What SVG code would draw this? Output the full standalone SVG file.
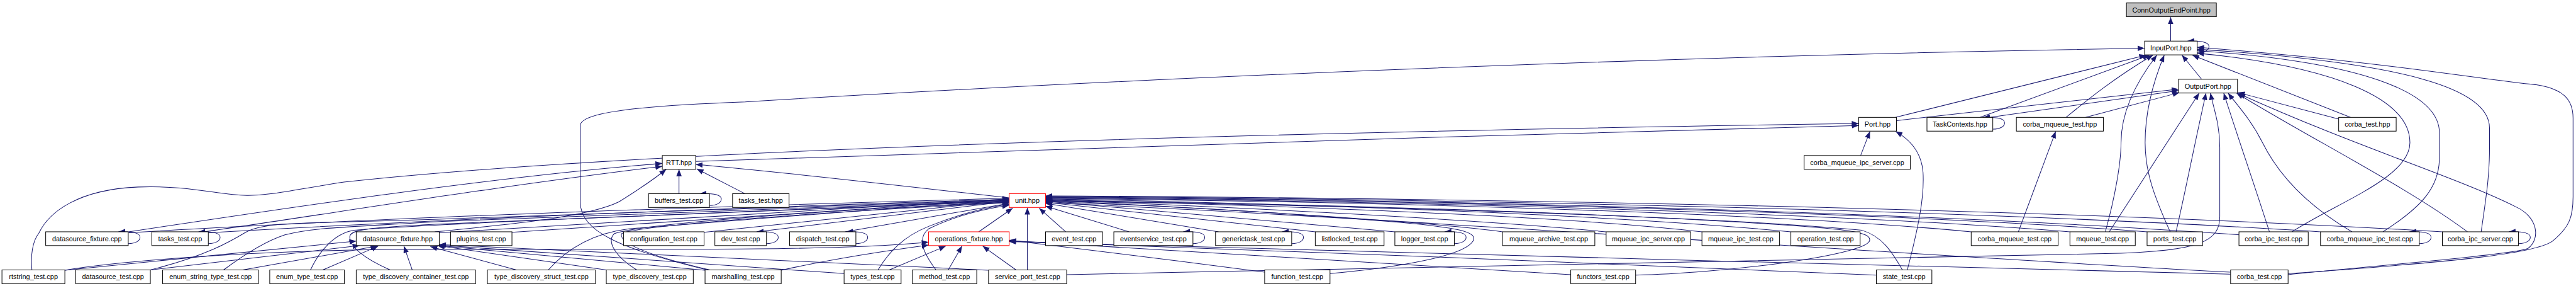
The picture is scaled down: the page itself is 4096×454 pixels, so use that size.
<svg xmlns="http://www.w3.org/2000/svg" width="4096" height="454" viewBox="0 0 4096 454">
<style>
.n rect{fill:#fff;stroke:#000;stroke-width:1.3}
.r rect{stroke:#f00}
.g rect{fill:#bfbfbf}
text{font-family:"Liberation Sans",Arial,sans-serif;font-size:14px;text-anchor:middle;fill:#000}
.e path{fill:none;stroke:#191970;stroke-width:1.3;marker-end:url(#a)}
</style>
<defs>
<marker id="a" markerUnits="userSpaceOnUse" markerWidth="14" markerHeight="11" viewBox="0 0 14 11" refX="14" refY="5.5" orient="auto"><path d="M0,0 L14,5.5 L0,11 z" fill="#191970"/></marker>
</defs>
<rect width="4096" height="454" fill="#fff"/>
<g transform="scale(0.781232)">
<g id="edges" class="e">
<path d="M4418,83.5 L4418,35"/>
<path d="M4472,107.5 C4488,107.5 4496,101.5 4496,94.5 C4496,86.5 4484,82.5 4452,83.5"/>
<path d="M4481,161 L4441,112"/>
<path d="M3858,238.5 L4368,112"/>
<path d="M3860,245 L4434,181"/>
<path d="M4030,238.5 L4375,112"/>
<path d="M4050,238.5 L4434,184"/>
<path d="M4056,262.5 C4072,262.5 4080,256.5 4080,249.5 C4080,241.5 4068,237.5 4036,238.5"/>
<path d="M4205,238.5 C4240,210 4300,160 4382,112"/>
<path d="M4245,238.5 L4436,188"/>
<path d="M4784,238.5 L4462,112"/>
<path d="M4760,242 L4555,188"/>
<path d="M1440,548.5 C1260,505 1181,470 1181,410 L1181,255 C1181,228 1300,215 1517,207 C2200,165 3300,115 4365,98"/>
<path d="M4285,471 C4305,400 4317,330 4317,290 C4317,230 4345,170 4390,112"/>
<path d="M4417,471 C4385,400 4366,350 4366,290 C4366,220 4385,160 4405,112"/>
<path d="M4293,471 L4476,189"/>
<path d="M4429,471 C4450,380 4465,300 4490,189"/>
<path d="M2171,558 C2600,547 3440,535 4300,515 C4480,510 4518,490 4518,440 L4518,300 C4518,250 4505,220 4499,189"/>
<path d="M4619,471 C4590,380 4555,280 4526,189"/>
<path d="M4787,471 C4700,420 4640,360 4605,290 C4580,240 4550,210 4535,189"/>
<path d="M5022,471 C4900,380 4700,280 4552,189"/>
<path d="M4657,558 C4950,530 5120,515 5145,505 C5172,485 5165,440 5120,420 C5000,360 4800,300 4556,190"/>
<path d="M4657,556 C5000,532 5160,515 5195,490 C5230,462 5237,440 5237,400 L5237,240 C5237,200 5215,180 5160,172 C5050,162 4880,128 4472,96"/>
<path d="M5050,471 C5060,400 5067,360 5067,300 L5067,260 C5067,180 4900,128 4472,100"/>
<path d="M4850,471 C4930,420 4965,380 4965,320 L4965,270 C4965,185 4800,125 4472,103"/>
<path d="M4665,471 C4760,410 4905,360 4905,290 C4905,200 4750,135 4472,108"/>
<path d="M3787,316 L3806,267"/>
<path d="M3882,548.5 C3905,460 3917,400 3914,350 C3911,310 3890,285 3858,267"/>
<path d="M4108,471 L4184,267"/>
<path d="M1416,328 C2000,312 3000,272 3783,255"/>
<path d="M65,548.5 C62,520 66,490 79,474 C100,430 160,385 281,380 C390,376 450,398 505,397 C560,396 600,385 700,370 C1300,305 2500,270 3783,251"/>
<path d="M262,471 C600,420 1000,360 1348,332"/>
<path d="M415,471 C700,430 1000,380 1348,338"/>
<path d="M1382,393.5 L1382,344"/>
<path d="M1516,393.5 L1418,343"/>
<path d="M2054,402 C1900,385 1600,350 1416,334"/>
<path d="M885,471 C1050,455 1200,440 1260,410 C1300,385 1330,365 1356,344"/>
<path d="M261,495 C277,495 285,489 285,482 C285,474 273,470 241,471"/>
<path d="M424,495 C440,495 448,489 448,482 C448,474 436,470 404,471"/>
<path d="M1444,417.5 C1460,417.5 1468,411.5 1468,404.5 C1468,396.5 1456,392.5 1424,393.5"/>
<path d="M1560,495 C1576,495 1584,489 1584,482 C1584,474 1572,470 1540,471"/>
<path d="M1742,495 C1758,495 1766,489 1766,482 C1766,474 1754,470 1722,471"/>
<path d="M2428,495 C2444,495 2452,489 2452,482 C2452,474 2440,470 2408,471"/>
<path d="M2629,495 C2645,495 2653,489 2653,482 C2653,474 2641,470 2609,471"/>
<path d="M2960,495 C2976,495 2984,489 2984,482 C2984,474 2972,470 2940,471"/>
<path d="M4924,495 C4940,495 4948,489 4948,482 C4948,474 4936,470 4904,471"/>
<path d="M5126,495 C5142,495 5150,489 5150,482 C5150,474 5138,470 5106,471"/>
<path d="M262,473 C800,440 1600,415 2054,403"/>
<path d="M424,473 C900,445 1600,418 2054,405"/>
<path d="M306,548.5 C420,520 470,490 500,472 C540,450 600,455 900,445 C1400,430 1800,415 2054,406"/>
<path d="M455,548.5 C500,515 540,490 580,477 C640,462 700,462 900,450 C1400,432 1800,416 2054,407"/>
<path d="M632,548.5 C650,510 680,475 720,468 C800,458 1400,435 2054,408"/>
<path d="M794,548.5 C740,525 710,500 712,480 C715,465 760,462 900,455 C1400,435 1800,417 2054,409"/>
<path d="M1116,548.5 C1150,510 1200,475 1280,465 C1600,440 1900,415 2054,410"/>
<path d="M1296,548.5 C1250,520 1235,490 1250,475 C1300,455 1700,425 2054,411"/>
<path d="M1445,548.5 C1300,515 1260,490 1265,475 C1280,460 1700,428 2054,412"/>
<path d="M894,473 L2054,404"/>
<path d="M1042,472 L2054,405"/>
<path d="M1433,472 L2054,407"/>
<path d="M1540,471 L2054,409"/>
<path d="M1720,471 L2054,413"/>
<path d="M1787,548.5 C1810,510 1840,480 1890,460 C1950,436 2000,422 2054,415"/>
<path d="M1905,548.5 C1880,515 1865,485 1890,465 C1940,440 2000,425 2054,417"/>
<path d="M1992,471 L2061,423"/>
<path d="M2091,548.5 L2091,422"/>
<path d="M2169,471 L2115,423"/>
<path d="M2298,471 L2128,419"/>
<path d="M2480,471 L2128,413"/>
<path d="M2677,471 L2128,411"/>
<path d="M2839,471 L2128,409"/>
<path d="M3058,471 C2900,450 2500,425 2128,407"/>
<path d="M3269,471 C3000,445 2500,420 2128,406"/>
<path d="M3464,471 C3200,440 2600,418 2128,405"/>
<path d="M3645,471 C3300,438 2700,415 2128,404"/>
<path d="M4012,471 C3600,432 2800,410 2128,403"/>
<path d="M4213,471 C3700,430 2800,408 2128,402"/>
<path d="M4370,471 C3800,428 2800,406 2128,401"/>
<path d="M4557,477 C3900,430 2900,405 2128,400"/>
<path d="M4723,471 C4000,425 2900,404 2128,399"/>
<path d="M4971,471 C4100,420 2900,402 2128,398"/>
<path d="M2707,556 C2850,543 2980,520 2998,490 C3010,470 2960,462 2850,452 C2600,430 2300,415 2128,410"/>
<path d="M3329,559 C3500,556 3790,520 3805,490 C3812,470 3750,465 3600,455 C3200,430 2600,412 2128,408"/>
<path d="M3872,548.5 C3850,510 3830,480 3790,468 C3500,440 2700,415 2128,409"/>
<path d="M4540,553 C3900,520 2800,440 2128,412"/>
<path d="M132,549 C250,530 500,510 800,507 C1300,505 1700,512 1890,492"/>
<path d="M1590,549 C1700,525 1800,510 1890,498"/>
<path d="M1810,548.5 L1925,500"/>
<path d="M1930,548.5 L1958,500"/>
<path d="M2068,548.5 L2000,500"/>
<path d="M2574,553 C2400,530 2200,505 2054,488"/>
<path d="M3197,558 C2900,540 2400,510 2054,489"/>
<path d="M3819,559 C3400,540 2500,505 2054,490"/>
<path d="M4540,557 C3800,540 2600,505 2054,491"/>
<path d="M132,549 L725,490"/>
<path d="M306,548.5 L732,499"/>
<path d="M494,548.5 L768,500"/>
<path d="M657,548.5 L770,500"/>
<path d="M839,548.5 L822,500"/>
<path d="M1051,548.5 L876,501"/>
<path d="M1234,548.5 L890,499"/>
<path d="M1435,549 L891,499"/>
<path d="M1719,556 L892,498"/>
<path d="M2012,549 L894,497"/>
</g>
<g id="n_ConnOutputEndPoint" class="n g"><rect x="4328" y="6" width="183" height="28"/><text x="4419.5" y="25">ConnOutputEndPoint.hpp</text></g>
<g id="n_InputPort" class="n"><rect x="4365" y="83.5" width="107" height="28"/><text x="4418.5" y="102.5">InputPort.hpp</text></g>
<g id="n_OutputPort" class="n"><rect x="4434" y="161" width="120" height="28"/><text x="4494" y="180">OutputPort.hpp</text></g>
<g id="n_Port" class="n"><rect x="3783" y="238.5" width="77" height="28"/><text x="3821.5" y="257.5">Port.hpp</text></g>
<g id="n_TaskContexts" class="n"><rect x="3922" y="238.5" width="134" height="28"/><text x="3989" y="257.5">TaskContexts.hpp</text></g>
<g id="n_corba_mqueue_test_hpp" class="n"><rect x="4104" y="238.5" width="177" height="28"/><text x="4192.5" y="257.5">corba_mqueue_test.hpp</text></g>
<g id="n_corba_test_hpp" class="n"><rect x="4760" y="238.5" width="117" height="28"/><text x="4818.5" y="257.5">corba_test.hpp</text></g>
<g id="n_RTT" class="n"><rect x="1348" y="316" width="68" height="28"/><text x="1382" y="335">RTT.hpp</text></g>
<g id="n_corba_mqueue_ipc_server" class="n"><rect x="3672" y="316" width="216" height="28"/><text x="3780" y="335">corba_mqueue_ipc_server.cpp</text></g>
<g id="n_buffers_test" class="n"><rect x="1320" y="393.5" width="124" height="28"/><text x="1382" y="412.5">buffers_test.cpp</text></g>
<g id="n_tasks_test_hpp" class="n"><rect x="1491" y="393.5" width="115" height="28"/><text x="1548.5" y="412.5">tasks_test.hpp</text></g>
<g id="n_unit" class="n r"><rect x="2054" y="393.5" width="74" height="28"/><text x="2091" y="412.5">unit.hpp</text></g>
<g id="n_datasource_fixture_cpp" class="n"><rect x="93" y="471" width="168" height="28"/><text x="177" y="490">datasource_fixture.cpp</text></g>
<g id="n_tasks_test_cpp" class="n"><rect x="309" y="471" width="115" height="28"/><text x="366.5" y="490">tasks_test.cpp</text></g>
<g id="n_datasource_fixture_hpp" class="n"><rect x="725" y="471" width="169" height="28"/><text x="809.5" y="490">datasource_fixture.hpp</text></g>
<g id="n_plugins_test" class="n"><rect x="917" y="471" width="125" height="28"/><text x="979.5" y="490">plugins_test.cpp</text></g>
<g id="n_configuration_test" class="n"><rect x="1269" y="471" width="164" height="28"/><text x="1351" y="490">configuration_test.cpp</text></g>
<g id="n_dev_test" class="n"><rect x="1455" y="471" width="105" height="28"/><text x="1507.5" y="490">dev_test.cpp</text></g>
<g id="n_dispatch_test" class="n"><rect x="1607" y="471" width="135" height="28"/><text x="1674.5" y="490">dispatch_test.cpp</text></g>
<g id="n_operations_fixture" class="n r"><rect x="1890" y="471" width="164" height="28"/><text x="1972" y="490">operations_fixture.hpp</text></g>
<g id="n_event_test" class="n"><rect x="2128" y="471" width="116" height="28"/><text x="2186" y="490">event_test.cpp</text></g>
<g id="n_eventservice_test" class="n"><rect x="2267" y="471" width="161" height="28"/><text x="2347.5" y="490">eventservice_test.cpp</text></g>
<g id="n_generictask_test" class="n"><rect x="2474" y="471" width="155" height="28"/><text x="2551.5" y="490">generictask_test.cpp</text></g>
<g id="n_listlocked_test" class="n"><rect x="2677" y="471" width="140" height="28"/><text x="2747" y="490">listlocked_test.cpp</text></g>
<g id="n_logger_test" class="n"><rect x="2839" y="471" width="121" height="28"/><text x="2899.5" y="490">logger_test.cpp</text></g>
<g id="n_mqueue_archive_test" class="n"><rect x="3058" y="471" width="188" height="28"/><text x="3152" y="490">mqueue_archive_test.cpp</text></g>
<g id="n_mqueue_ipc_server" class="n"><rect x="3269" y="471" width="172" height="28"/><text x="3355" y="490">mqueue_ipc_server.cpp</text></g>
<g id="n_mqueue_ipc_test" class="n"><rect x="3464" y="471" width="158" height="28"/><text x="3543" y="490">mqueue_ipc_test.cpp</text></g>
<g id="n_operation_test" class="n"><rect x="3645" y="471" width="141" height="28"/><text x="3715.5" y="490">operation_test.cpp</text></g>
<g id="n_corba_mqueue_test_cpp" class="n"><rect x="4012" y="471" width="177" height="28"/><text x="4100.5" y="490">corba_mqueue_test.cpp</text></g>
<g id="n_mqueue_test" class="n"><rect x="4213" y="471" width="133" height="28"/><text x="4279.5" y="490">mqueue_test.cpp</text></g>
<g id="n_ports_test" class="n"><rect x="4370" y="471" width="113" height="28"/><text x="4426.5" y="490">ports_test.cpp</text></g>
<g id="n_corba_ipc_test" class="n"><rect x="4557" y="471" width="141" height="28"/><text x="4627.5" y="490">corba_ipc_test.cpp</text></g>
<g id="n_corba_mqueue_ipc_test" class="n"><rect x="4723" y="471" width="201" height="28"/><text x="4823.5" y="490">corba_mqueue_ipc_test.cpp</text></g>
<g id="n_corba_ipc_server" class="n"><rect x="4971" y="471" width="155" height="28"/><text x="5048.5" y="490">corba_ipc_server.cpp</text></g>
<g id="n_rtstring_test" class="n"><rect x="4" y="548.5" width="128" height="28"/><text x="68" y="567.5">rtstring_test.cpp</text></g>
<g id="n_datasource_test" class="n"><rect x="154" y="548.5" width="152" height="28"/><text x="230" y="567.5">datasource_test.cpp</text></g>
<g id="n_enum_string_type_test" class="n"><rect x="331" y="548.5" width="195" height="28"/><text x="428.5" y="567.5">enum_string_type_test.cpp</text></g>
<g id="n_enum_type_test" class="n"><rect x="549" y="548.5" width="152" height="28"/><text x="625" y="567.5">enum_type_test.cpp</text></g>
<g id="n_type_discovery_container_test" class="n"><rect x="725" y="548.5" width="243" height="28"/><text x="846.5" y="567.5">type_discovery_container_test.cpp</text></g>
<g id="n_type_discovery_struct_test" class="n"><rect x="992" y="548.5" width="220" height="28"/><text x="1102" y="567.5">type_discovery_struct_test.cpp</text></g>
<g id="n_type_discovery_test" class="n"><rect x="1234" y="548.5" width="177" height="28"/><text x="1322.5" y="567.5">type_discovery_test.cpp</text></g>
<g id="n_marshalling_test" class="n"><rect x="1435" y="548.5" width="155" height="28"/><text x="1512.5" y="567.5">marshalling_test.cpp</text></g>
<g id="n_types_test" class="n"><rect x="1718" y="548.5" width="116" height="28"/><text x="1776" y="567.5">types_test.cpp</text></g>
<g id="n_method_test" class="n"><rect x="1857" y="548.5" width="131" height="28"/><text x="1922.5" y="567.5">method_test.cpp</text></g>
<g id="n_service_port_test" class="n"><rect x="2012" y="548.5" width="159" height="28"/><text x="2091.5" y="567.5">service_port_test.cpp</text></g>
<g id="n_function_test" class="n"><rect x="2574" y="548.5" width="133" height="28"/><text x="2640.5" y="567.5">function_test.cpp</text></g>
<g id="n_functors_test" class="n"><rect x="3197" y="548.5" width="132" height="28"/><text x="3263" y="567.5">functors_test.cpp</text></g>
<g id="n_state_test" class="n"><rect x="3819" y="548.5" width="113" height="28"/><text x="3875.5" y="567.5">state_test.cpp</text></g>
<g id="n_corba_test_cpp" class="n"><rect x="4540" y="548.5" width="117" height="28"/><text x="4598.5" y="567.5">corba_test.cpp</text></g>
</g>
</svg>
